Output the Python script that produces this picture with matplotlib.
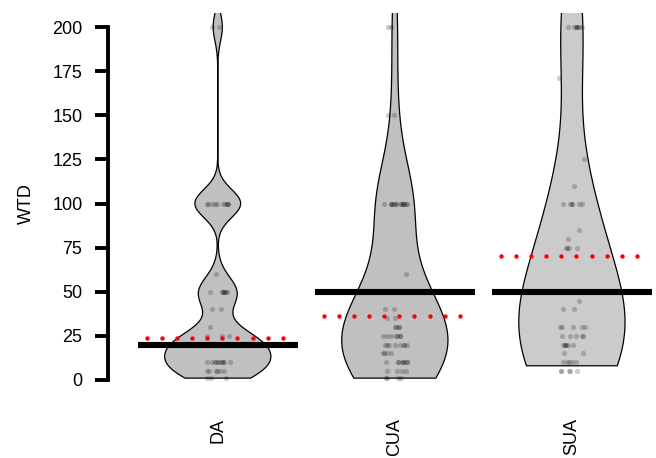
import numpy as np
import matplotlib
matplotlib.use("Agg")
import matplotlib.pyplot as plt

plt.rcParams["font.family"] = ["Liberation Sans", "DejaVu Sans"]

groups = ["DA", "CUA", "SUA"]

# WTD values (value, number of points)
da_values = [1, 5, 10, 20, 25, 30, 40, 50, 60, 100, 200, 365]
da_counts = [3, 6, 10, 12, 3, 1, 2, 7, 1, 10, 2, 1]

cua_values = [1, 5, 10, 15, 20, 25, 30, 35, 40, 50, 60, 100, 150, 200, 300, 365]
cua_counts = [4, 4, 8, 4, 8, 7, 4, 2, 2, 9, 1, 14, 2, 2, 2, 2]

sua_values = [5, 10, 15, 20, 25, 30, 40, 45, 50, 75, 80, 85, 100, 110, 125, 171, 200, 300, 365]
sua_counts = [5, 5, 2, 6, 5, 5, 2, 1, 8, 4, 1, 1, 6, 1, 1, 1, 7, 3, 3]

medians = [20, 50, 50]
means = [24, 36, 70]

# violin settings
bandwidths = [8, 25, 36]
violin_floor = [1, 1, 8]
fills = ["#c0c0c0", "#c0c0c0", "#cbcbcb"]

yticks = [0, 25, 50, 75, 100, 125, 150, 175, 200]


def kde(data, grid, bw):
    z = (grid[:, None] - data[None, :]) / bw
    return np.exp(-0.5 * z ** 2).sum(axis=1)


fig = plt.figure(figsize=(6.56, 4.58), dpi=100)
ax = fig.add_axes([0.1646, 0.1397, 0.8354, 0.8319])

rng = np.random.default_rng(3)
all_data = [(da_values, da_counts), (cua_values, cua_counts), (sua_values, sua_counts)]

for i, (vals, cnts) in enumerate(all_data):
    pos = i + 1
    data = np.repeat(np.array(vals, dtype=float), cnts)

    # violin, scaled so every group has the same max width
    grid = np.linspace(max(data.min(), violin_floor[i]), data.max(), 600)
    dens = kde(data, grid, bandwidths[i])
    half = 0.3 * dens / dens.max()
    ax.fill_betweenx(grid, pos - half, pos + half, facecolor=fills[i],
                     edgecolor="black", linewidth=0.9, zorder=1)

    # jittered points
    jit = rng.uniform(-0.075, 0.075, len(data))
    ax.scatter(pos + jit, data, s=14, color="black", alpha=0.2,
               linewidths=0, zorder=2)

    # median bar
    ax.plot([pos - 0.452, pos + 0.452], [medians[i], medians[i]],
            color="black", linewidth=4.4, solid_capstyle="butt", zorder=3)

    # mean as a row of red dots
    xs = np.linspace(pos - 0.401, pos + 0.367, 10)
    ax.scatter(xs, np.full(10, means[i]), s=10, color="red", linewidths=0, zorder=4)

ax.set_xlim(0.38, 3.475)
ax.set_ylim(-8, 208)

ax.set_yticks(yticks)
ax.set_xticks([1, 2, 3])
ax.set_xticklabels(groups, rotation=90)
ax.tick_params(axis="x", length=0, pad=17, labelsize=13)
ax.tick_params(axis="y", length=9.4, width=2.8, pad=9, labelsize=13)

for side in ["top", "right", "bottom"]:
    ax.spines[side].set_visible(False)
ax.spines["left"].set_linewidth(2.8)
ax.spines["left"].set_bounds(0, 200)
ax.spines["left"].set_capstyle("projecting")

ax.set_ylabel("WTD", fontsize=13)
ax.yaxis.set_label_coords(-0.133, 0.5)

fig.savefig("out.png", dpi=100)
